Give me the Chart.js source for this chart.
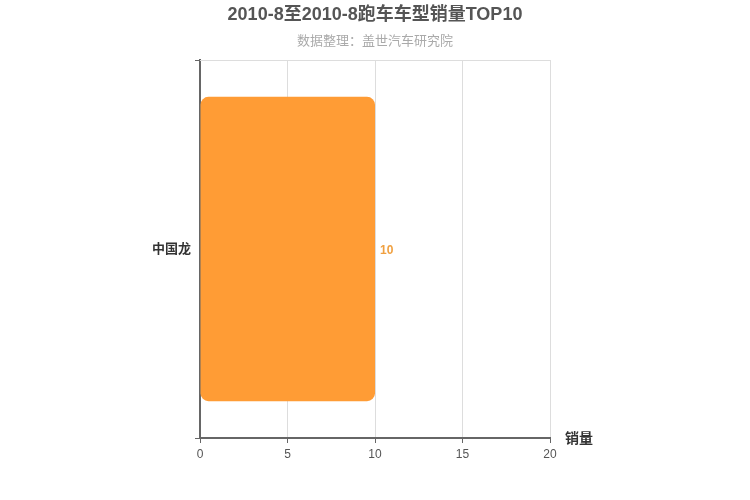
<!DOCTYPE html>
<html>
<head>
<meta charset="utf-8">
<script src="https://cdn.jsdelivr.net/npm/chart.js@4/dist/chart.umd.min.js"></script>
<style>
  html, body { margin: 0; padding: 0; background: #fff; }
  #wrap { width: 750px; height: 500px; }
</style>
</head>
<body>
<div id="wrap"><canvas id="salesChart" width="750" height="500"></canvas></div>
<script>
const titleText = '2010-8至2010-8跑车车型销量TOP10';
const subtitleText = '数据整理：盖世汽车研究院';
const axisName = '销量';
const models = ['中国龙'];
const sales = [10];
const xTicks = [0, 5, 10, 15, 20];

const FONT = '"Liberation Sans", Arial, "Noto Sans CJK SC", sans-serif';

const decorPlugin = {
    id: 'decor',
    afterDraw(chart) {
        const c = chart.ctx;
        const area = chart.chartArea;
        c.save();
        c.textAlign = 'center';
        c.textBaseline = 'middle';
        c.fillStyle = '#555';
        c.font = 'bold 18px ' + FONT;
        c.fillText(titleText, 375, 15);
        c.fillStyle = '#aaa';
        c.font = '13px ' + FONT;
        c.fillText(subtitleText, 375, 41);

        // top border line
        c.strokeStyle = '#ddd';
        c.lineWidth = 1;
        c.beginPath();
        c.moveTo(area.left, area.top + 0.5);
        c.lineTo(area.right, area.top + 0.5);
        c.stroke();

        // axis name
        c.textAlign = 'left';
        c.fillStyle = '#333';
        c.font = 'bold 14px ' + FONT;
        c.fillText(axisName, area.right + 15, area.bottom + 1);

        // value labels
        const meta = chart.getDatasetMeta(0);
        c.fillStyle = '#f0a040';
        c.font = 'bold 12px ' + FONT;
        meta.data.forEach((bar, i) => {
            c.fillText(String(sales[i]), bar.x + 5, bar.y + 2);
        });
        c.restore();
    }
};

new Chart(document.getElementById('salesChart'), {
    type: 'bar',
    data: {
        labels: models,
        datasets: [{
            data: sales,
            backgroundColor: '#ff9c35',
            borderRadius: 8,
            borderSkipped: false,
            barPercentage: 0.805,
            categoryPercentage: 1
        }]
    },
    options: {
        indexAxis: 'y',
        responsive: false,
        animation: false,
        layout: { padding: { top: 60, right: 200, left: 0, bottom: 0 } },
        plugins: {
            legend: { display: false },
            tooltip: { enabled: false }
        },
        scales: {
            x: {
                min: 0,
                max: 20,
                afterBuildTicks(scale) {
                    scale.ticks = xTicks.map(v => ({ value: v }));
                },
                afterFit(scale) { scale.height = 62; },
                grid: {
                    color: '#ddd',
                    tickColor: '#666',
                    tickLength: 5
                },
                border: { color: '#666', width: 2 },
                ticks: {
                    color: '#555',
                    padding: 4,
                    font: { family: FONT, size: 12 }
                }
            },
            y: {
                afterFit(scale) { scale.width = 200; },
                grid: {
                    display: true,
                    drawOnChartArea: false,
                    offset: true,
                    tickColor: '#666',
                    tickLength: 5
                },
                border: { color: '#666', width: 2 },
                ticks: {
                    color: '#333',
                    padding: 4,
                    font: { family: FONT, size: 13, weight: 'bold' }
                }
            }
        }
    },
    plugins: [decorPlugin]
});
</script>
</body>
</html>
